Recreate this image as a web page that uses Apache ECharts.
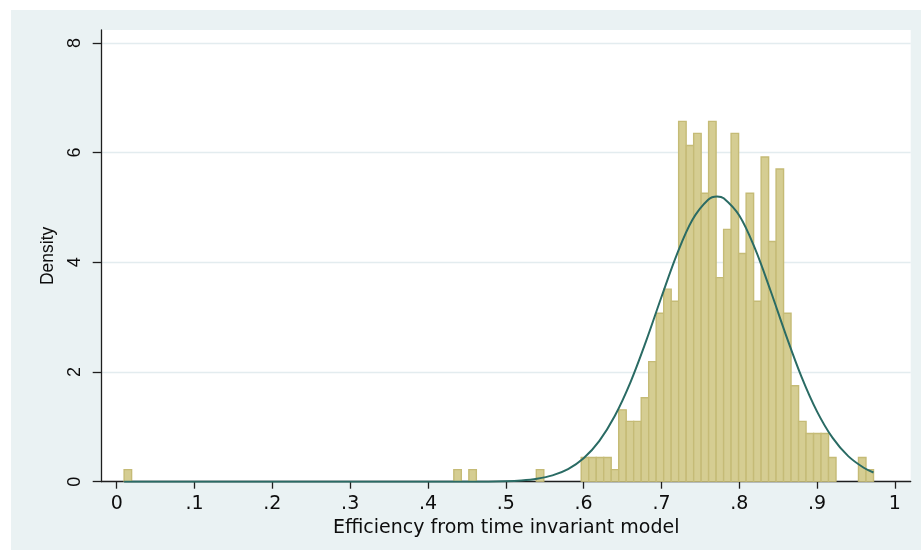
<!DOCTYPE html>
<html>
<head>
<meta charset="utf-8">
<script src="https://cdn.jsdelivr.net/npm/echarts@6/dist/echarts.min.js"></script>
<style>
  html, body { margin: 0; padding: 0; background: #ffffff; }
  #chart { position: absolute; left: 11px; top: 10px; width: 910px; height: 540px; }
</style>
</head>
<body>
<div id="chart"></div>
<script>
// Histogram of efficiency scores on a density scale, with a normal density overlay.

// Histogram bins: lower edge of each non-empty bin and its density
const binWidth = 0.00963;
const binStarts = [
  0.0095, 0.4332, 0.4525, 0.5392,
  0.5969, 0.6066, 0.6162, 0.6258, 0.6355, 0.6451, 0.6547, 0.6643, 0.6740, 0.6836,
  0.6932, 0.7029, 0.7125, 0.7221, 0.7318, 0.7414, 0.7510, 0.7606, 0.7703, 0.7799,
  0.7895, 0.7992, 0.8088, 0.8184, 0.8281, 0.8377, 0.8473, 0.8569, 0.8666, 0.8762,
  0.8858, 0.8955, 0.9051, 0.9147, 0.9532, 0.9629
];
const binDensity = [
  0.22, 0.22, 0.22, 0.22,
  0.44, 0.44, 0.44, 0.44, 0.22, 1.31, 1.10, 1.10, 1.53, 2.19,
  3.07, 3.51, 3.29, 6.57, 6.13, 6.35, 5.26, 6.57, 3.72, 4.60,
  6.35, 4.16, 5.26, 3.29, 5.92, 4.38, 5.70, 3.07, 1.75, 1.10,
  0.88, 0.88, 0.88, 0.44, 0.44, 0.22
];

// Normal density curve
const normalX = [
  0.0095, 0.40, 0.46, 0.50, 0.52, 0.54, 0.56, 0.58, 0.60, 0.62, 0.64, 0.66, 0.68,
  0.70, 0.72, 0.74, 0.76, 0.7715, 0.78, 0.80, 0.82, 0.84, 0.86, 0.88, 0.90, 0.92,
  0.94, 0.96, 0.9725
];
const normalY = [
  0.00, 0.00, 0.00, 0.01, 0.024, 0.055, 0.116, 0.23, 0.427, 0.74, 1.197, 1.807, 2.553,
  3.367, 4.151, 4.78, 5.142, 5.20, 5.168, 4.853, 4.258, 3.49, 2.673, 1.912, 1.278, 0.798,
  0.466, 0.254, 0.168
];

// Axis ticks
const xTickValues = [0, 0.1, 0.2, 0.3, 0.4, 0.5, 0.6, 0.7, 0.8, 0.9, 1];
const xTickLabels = ['0', '.1', '.2', '.3', '.4', '.5', '.6', '.7', '.8', '.9', '1'];
const yTickValues = [0, 2, 4, 6, 8];
const yTickLabels = ['0', '2', '4', '6', '8'];

const xTitle = 'Efficiency from time invariant model';
const yTitle = 'Density';

function lookupLabel(values, labels, v) {
  for (let i = 0; i < values.length; i++) {
    if (Math.abs(values[i] - v) < 1e-9) return labels[i];
  }
  return '';
}

const chart = echarts.init(document.getElementById('chart'), null, { renderer: 'canvas' });

const axisColor = '#1e1e1e';
const textColor = '#0d0d0d';

chart.setOption({
  animation: false,
  backgroundColor: '#EAF2F3',
  grid: {
    left: 90.7, top: 20, right: 10.3, bottom: 68.3,
    show: true, backgroundColor: '#ffffff', borderWidth: 0,
    containLabel: false
  },
  xAxis: {
    type: 'value',
    min: -0.0193,
    max: 1.0203,
    name: xTitle,
    nameLocation: 'middle',
    nameGap: 28,
    nameTextStyle: { fontFamily: 'DejaVu Sans', fontSize: 19, color: textColor },
    axisLine: { show: true, onZero: false, lineStyle: { color: axisColor, width: 1.3 } },
    axisTick: { show: true, length: 7, customValues: xTickValues, lineStyle: { color: axisColor, width: 1.3 } },
    axisLabel: {
      customValues: xTickValues,
      margin: 13,
      fontFamily: 'DejaVu Sans',
      fontSize: 19,
      color: textColor,
      formatter: function (v) { return lookupLabel(xTickValues, xTickLabels, v); }
    },
    splitLine: { show: false }
  },
  yAxis: {
    type: 'value',
    min: 0,
    max: 8.235,
    name: yTitle,
    nameLocation: 'middle',
    nameGap: 45,
    nameRotate: 90,
    nameTextStyle: { fontFamily: 'Liberation Sans', fontSize: 17.5, color: textColor },
    axisLine: { show: true, onZero: false, lineStyle: { color: axisColor, width: 1.3 } },
    axisTick: { show: true, length: 9, customValues: yTickValues, lineStyle: { color: axisColor, width: 1.3 } },
    axisLabel: {
      customValues: yTickValues,
      rotate: 90,
      margin: 18,
      fontFamily: 'Liberation Sans',
      fontSize: 18,
      color: textColor,
      formatter: function (v) { return lookupLabel(yTickValues, yTickLabels, v); }
    },
    splitLine: { show: true, lineStyle: { color: '#E3ECEF', width: 1.3 } }
  },
  series: [
    {
      type: 'custom',
      name: 'Density',
      data: binStarts.map(function (x, i) { return [x, binDensity[i]]; }),
      encode: { x: 0, y: 1 },
      clip: true,
      renderItem: function (params, api) {
        const base = api.coord([api.value(0), 0]);
        const top = api.coord([api.value(0) + binWidth, api.value(1)]);
        return {
          type: 'rect',
          shape: { x: base[0], y: top[1], width: top[0] - base[0], height: base[1] - top[1] },
          style: { fill: '#D5CD92', stroke: '#C5BB76', lineWidth: 1.4 }
        };
      },
      z: 2
    },
    {
      type: 'line',
      name: 'Normal density',
      data: normalX.map(function (x, i) { return [x, normalY[i]]; }),
      smooth: 0.35,
      symbol: 'none',
      lineStyle: { color: '#2A6B64', width: 2 },
      z: 3
    }
  ]
});
</script>
</body>
</html>
